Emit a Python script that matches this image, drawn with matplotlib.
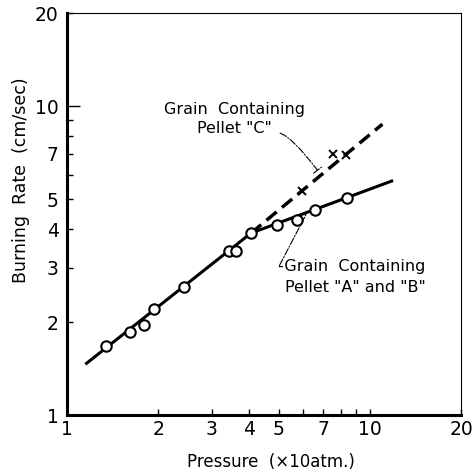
import numpy as np
import matplotlib.pyplot as plt
from matplotlib.ticker import FixedLocator, FixedFormatter, NullFormatter

# Pellet "A" and "B" (circles)
p_ab = [1.34, 1.62, 1.80, 1.94, 2.43, 3.42, 3.61, 4.05, 4.93, 5.74, 6.58, 8.40]
r_ab = [1.67, 1.86, 1.96, 2.20, 2.60, 3.40, 3.40, 3.88, 4.12, 4.28, 4.61, 5.04]
# Pellet "C" (crosses)
p_c = [5.97, 7.55, 8.33]
r_c = [5.31, 6.99, 6.94]
# fitted lines
p_fit_ab = [1.16, 4.05, 11.8]
r_fit_ab = [1.47, 3.88, 5.72]
p_fit_c = [4.05, 11.0]
r_fit_c = [3.88, 8.74]

ticks = [1, 2, 3, 4, 5, 7, 10, 20]
tick_labels = ['1', '2', '3', '4', '5', '7', '10', '20']
minor = [6, 8, 9]

plt.rcParams['font.family'] = ['DejaVu Sans']
fig = plt.figure(figsize=(4.77, 4.70), dpi=100)
ax = fig.add_axes([0.1405, 0.117, 0.826, 0.855])

ax.plot(p_fit_ab, r_fit_ab, '-', color='black', lw=2.2)
ax.plot(p_fit_c, r_fit_c, color='black', lw=2.5, ls=(0, (3.8, 2)))
ax.plot(p_ab, r_ab, 'o', ms=7.5, mfc='white', mec='black', mew=1.5)
ax.plot(p_c, r_c, 'x', ms=6, color='black', mew=1.4)

ax.set_xscale('log')
ax.set_yscale('log')
ax.set_xlim(1, 20)
ax.set_ylim(1, 20)

for axis in (ax.xaxis, ax.yaxis):
    axis.set_major_locator(FixedLocator(ticks))
    axis.set_major_formatter(FixedFormatter(tick_labels))
    axis.set_minor_locator(FixedLocator(minor))
    axis.set_minor_formatter(NullFormatter())
ax.tick_params(which='both', direction='in', length=4, width=1, labelsize=13.5)
ax.tick_params(axis='y', pad=6)
# longer tick at 10 on the y axis
ax.yaxis.get_major_ticks()[6].tick1line.set_markersize(9)

ax.spines['left'].set_linewidth(2.2)
ax.spines['bottom'].set_linewidth(2.2)
ax.spines['top'].set_linewidth(0.8)
ax.spines['right'].set_linewidth(0.8)

ax.set_xlabel('Pressure  (×10atm.)', fontsize=12)
ax.xaxis.set_label_coords(0.517, -0.095)
ax.set_ylabel('Burning  Rate  (cm/sec)', fontsize=12.5)
ax.yaxis.set_label_coords(-0.095, 0.585)

ax.text(2.09, 9.1, 'Grain  Containing\nPellet "C"', fontsize=11.5,
        ha='left', va='center', multialignment='center', linespacing=1.35)
ax.annotate('', xy=(6.8, 6.1), xytext=(4.95, 8.2),
            arrowprops=dict(arrowstyle='-[,widthB=0.35,lengthB=0',
                            connectionstyle='angle3,angleA=0,angleB=127',
                            ls='-.', lw=0.8, color='black'))

ax.text(4.97, 2.8, '-Grain  Containing\nPellet "A" and "B"', fontsize=11.5,
        ha='left', va='center', multialignment='right', linespacing=1.5)
ax.annotate('', xy=(6.15, 4.45), xytext=(5.03, 3.05),
            arrowprops=dict(arrowstyle='-', shrinkA=0, shrinkB=0,
                            ls='-.', lw=0.8, color='black'))

fig.savefig('out.png', dpi=100)
